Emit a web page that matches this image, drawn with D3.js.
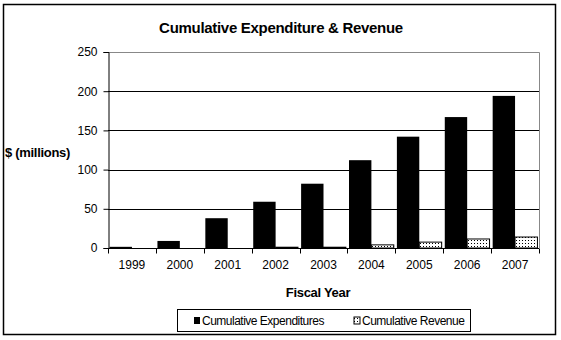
<!DOCTYPE html>
<html><head><meta charset="utf-8">
<script src="https://cdn.jsdelivr.net/npm/d3@7"></script>
<style>body{margin:0;background:#fff}svg{display:block;font-family:"Liberation Sans",Arial,sans-serif}</style>
</head><body><svg id="c" width="561" height="340"></svg>
<script>
const years = ["1999","2000","2001","2002","2003","2004","2005","2006","2007"];
const expenditures = [1.5, 9, 38, 59, 82, 112, 142, 167, 194];
const revenue = [0, 0, 0, 1, 1, 4, 7.5, 11.5, 14];
const seriesNames = ["Cumulative Expenditures", "Cumulative Revenue"];
const yTicks = [0, 50, 100, 150, 200, 250];

const svg = d3.select("#c");
const defs = svg.append("defs");
const pat = defs.append("pattern").attr("id","dots").attr("patternUnits","userSpaceOnUse")
  .attr("width",3).attr("height",3);
pat.append("rect").attr("width",3).attr("height",3).attr("fill","#fff");
pat.append("rect").attr("x",0).attr("y",0).attr("width",1).attr("height",1).attr("fill","#000");

svg.append("rect").attr("x",3.5).attr("y",4.5).attr("width",552).attr("height",330)
  .attr("fill","#fff").attr("stroke","#000").attr("stroke-width",1.5);

const L = 108, R = 539, T = 52, B = 248;
const x = d3.scaleBand().domain(years).range([L, R]).paddingInner(0.065).paddingOuter(0.0325);
const xs = d3.scaleBand().domain(seriesNames).range([0, x.bandwidth()]);
const y = d3.scaleLinear().domain([0, 250]).range([B, T]);

// plot border (gray) top & right
svg.append("path").attr("d", `M${L},${T+0.5}H${R+0.5}V${B}`).attr("fill","none").attr("stroke","#888").attr("stroke-width",1);
// gridlines
svg.append("g").selectAll("line").data(yTicks.filter(d => d > 0 && d < 250)).join("line")
  .attr("x1", L).attr("x2", R).attr("y1", d => Math.round(y(d))+0.5).attr("y2", d => Math.round(y(d))+0.5)
  .attr("stroke","#000").attr("stroke-width",1);

// bars
const g = svg.append("g");
years.forEach((yr, i) => {
  const vals = [expenditures[i], revenue[i]];
  vals.forEach((v, j) => {
    if (v <= 0) return;
    g.append("rect").attr("x", x(yr) + xs(seriesNames[j])).attr("y", y(v))
      .attr("width", xs.bandwidth()).attr("height", B - y(v))
      .attr("fill", j === 0 ? "#000" : "url(#dots)").attr("stroke", "#000").attr("stroke-width", j === 0 ? 0 : 1);
  });
});

// y axis
const ya = svg.append("g").attr("transform", `translate(${L+0.5},0)`)
  .call(d3.axisLeft(y).tickValues(yTicks).tickSize(5).tickPadding(6));
ya.select(".domain").attr("stroke","#000");
ya.selectAll("text").attr("font-size", 12).attr("fill","#000").attr("font-family","Liberation Sans, Arial, sans-serif");

// x axis
const step = (R - L) / years.length;
const xa = svg.append("g").attr("transform", `translate(0,${B+0.5})`);
xa.append("line").attr("x1", L).attr("x2", R).attr("stroke","#000");
d3.range(years.length + 1).forEach(i => {
  xa.append("line").attr("x1", Math.round(L + i*step)+0.5).attr("x2", Math.round(L + i*step)+0.5)
    .attr("y1", 0).attr("y2", 5).attr("stroke","#000");
});
xa.selectAll("text").data(years).join("text")
  .attr("x", d => x(d) + x.bandwidth()/2).attr("y", 20)
  .attr("text-anchor","middle").attr("font-size", 12).text(d => d);

// titles
svg.append("text").attr("x", 281).attr("y", 33).attr("text-anchor","middle")
  .attr("font-size", 15).attr("font-weight","bold").attr("letter-spacing", -0.3).text("Cumulative Expenditure & Revenue");
svg.append("text").attr("x", 5).attr("y", 157).attr("font-size", 13).attr("font-weight","bold")
  .attr("letter-spacing", -0.3).text("$ (millions)");
svg.append("text").attr("x", 318).attr("y", 297).attr("text-anchor","middle")
  .attr("font-size", 13).attr("font-weight","bold").attr("letter-spacing", -0.3).text("Fiscal Year");

// legend
const lg = svg.append("g");
lg.append("rect").attr("x", 177.5).attr("y", 309.5).attr("width", 293).attr("height", 22)
  .attr("fill","#fff").attr("stroke","#000");
const items = [{x:194, fill:"#000"}, {x:354, fill:"url(#dots)"}];
seriesNames.forEach((n, i) => {
  lg.append("rect").attr("x", items[i].x).attr("y", 317).attr("width", 6).attr("height", 7)
    .attr("fill", items[i].fill).attr("stroke","#000").attr("stroke-width", i ? 1 : 0);
  lg.append("text").attr("x", items[i].x + 8).attr("y", 325).attr("font-size", 12)
    .attr("letter-spacing", -0.5).text(n);
});
</script></body></html>
